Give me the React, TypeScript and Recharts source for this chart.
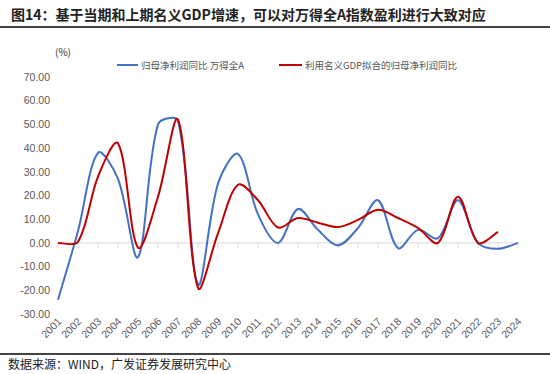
import React from 'react';
import { LineChart, Line, XAxis, YAxis, ReferenceLine } from 'recharts';

const years = ['2001','2002','2003','2004','2005','2006','2007','2008','2009','2010','2011','2012','2013','2014','2015','2016','2017','2018','2019','2020','2021','2022','2023','2024'];
const windA = [-24, 5, 38, 27, -6, 50, 51.5, -17.5, 25, 37.5, 12, 0, 14.3, 5.5, -1, 6.3, 18, -2.2, 5.5, 2, 18, 0, -2.5, 0];
const gdpFit = [0, 0.5, 28, 42, -2, 19.5, 52, -19, 4, 24.5, 18, 6.5, 10.5, 8.5, 6.7, 9.7, 14, 10.5, 6.3, 0, 19.5, 0, 4.7, null];
const yTicks = [-30, -20, -10, 0, 10, 20, 30, 40, 50, 60, 70];

const data = years.map((y, i) => ({ year: y, a: windA[i], b: gdpFit[i] }));

// Excel-like smoothing: Catmull-Rom tangents scaled by neighbouring segment lengths
function excelSmooth(context: any) {
  let pts: number[][] = [];
  const T = 1 / 3;
  const dist = (a: number[], b: number[]) => Math.hypot(b[0] - a[0], b[1] - a[1]);
  const flush = () => {
    const n = pts.length;
    if (n === 0) return;
    context.moveTo(pts[0][0], pts[0][1]);
    if (n === 1) return;
    for (let i = 0; i < n - 1; i++) {
      const p1 = pts[i];
      const p2 = pts[i + 1];
      const d12 = dist(p1, p2);
      let c1x: number, c1y: number, c2x: number, c2y: number;
      if (i > 0) {
        const p0 = pts[i - 1];
        const d01 = dist(p0, p1);
        const f = (d12 / (d01 + d12 || 1)) * T;
        c1x = p1[0] + (p2[0] - p0[0]) * f;
        c1y = p1[1] + (p2[1] - p0[1]) * f;
      } else {
        c1x = p1[0] + (p2[0] - p1[0]) * T * 0.5;
        c1y = p1[1] + (p2[1] - p1[1]) * T * 0.5;
      }
      if (i + 2 < n) {
        const p3 = pts[i + 2];
        const d23 = dist(p2, p3);
        const f = (d12 / (d12 + d23 || 1)) * T;
        c2x = p2[0] - (p3[0] - p1[0]) * f;
        c2y = p2[1] - (p3[1] - p1[1]) * f;
      } else {
        c2x = p2[0] - (p2[0] - p1[0]) * T * 0.5;
        c2y = p2[1] - (p2[1] - p1[1]) * T * 0.5;
      }
      context.bezierCurveTo(c1x, c1y, c2x, c2y, p2[0], p2[1]);
    }
  };
  return {
    areaStart() {},
    areaEnd() {},
    lineStart() { pts = []; },
    lineEnd() { flush(); pts = []; },
    point(x: number, y: number) { pts.push([+x, +y]); },
  };
}

const XTick = (props: any) => {
  const { x, y, payload } = props;
  return (
    <g transform={`translate(${x},${y})`}>
      <text x={0} y={0} dy={6} textAnchor="end" transform="rotate(-45)" fontSize={10.5} fill="#595959" fontFamily="Arial, 'Liberation Sans', sans-serif">
        {payload.value}
      </text>
    </g>
  );
};

export default function App() {
  const cjk = "'Noto Sans CJK SC', sans-serif";
  return (
    <div style={{ position: 'absolute', left: 0, top: 0, width: 550, height: 374, background: '#fff', overflow: 'hidden' }}>
      <div style={{ position: 'absolute', left: 11, top: 4, fontFamily: cjk, fontWeight: 700, fontSize: 14, color: '#222', whiteSpace: 'nowrap', lineHeight: '20px' }}>
        图14：基于当期和上期名义GDP增速，可以对万得全A指数盈利进行大致对应
      </div>
      <div style={{ position: 'absolute', left: 0, top: 26, width: 550, height: 1.5, background: '#444' }} />
      <div style={{ position: 'absolute', left: 55, top: 44, fontFamily: cjk, fontSize: 10, color: '#333' }}>(%)</div>
      <div style={{ position: 'absolute', left: 117, top: 64, width: 21, height: 2, background: '#4472C4' }} />
      <div style={{ position: 'absolute', left: 141, top: 58, fontFamily: cjk, fontSize: 9.5, color: '#555', whiteSpace: 'nowrap', lineHeight: '14px' }}>归母净利润同比 万得全A</div>
      <div style={{ position: 'absolute', left: 279, top: 64, width: 23, height: 2, background: '#C00000' }} />
      <div style={{ position: 'absolute', left: 305, top: 58, fontFamily: cjk, fontSize: 9.5, color: '#555', whiteSpace: 'nowrap', lineHeight: '14px' }}>利用名义GDP拟合的归母净利润同比</div>
      <div style={{ position: 'absolute', left: 0, top: 0 }}>
        <LineChart width={550} height={374} data={data} margin={{ top: 77, right: 32, bottom: 20, left: 0 }}>
          <XAxis dataKey="year" axisLine={false} tickLine={false} tickSize={0} tickMargin={4} height={40} interval={0} tick={<XTick />} />
          <YAxis domain={[-30, 70]} ticks={yTicks} width={58} axisLine={false} tickLine={false} tickSize={0} tickMargin={8}
            tickFormatter={(v: number) => v.toFixed(2)}
            tick={{ fontSize: 10.5, fill: '#595959', fontFamily: "Arial, 'Liberation Sans', sans-serif" }} />
          <ReferenceLine y={0} stroke="#d9d9d9" strokeWidth={1} />
          {years.map((yr) => (
            <ReferenceLine key={yr} segment={[{ x: yr, y: 0 }, { x: yr, y: -2 }]} stroke="#d9d9d9" strokeWidth={1} />
          ))}
          <Line dataKey="a" type={excelSmooth as any} stroke="#4472C4" strokeWidth={2} dot={false} isAnimationActive={false} />
          <Line dataKey="b" type={excelSmooth as any} stroke="#C00000" strokeWidth={2} dot={false} isAnimationActive={false} />
        </LineChart>
      </div>
      <div style={{ position: 'absolute', left: 0, top: 353, width: 550, height: 1.5, background: '#444' }} />
      <div style={{ position: 'absolute', left: 8, top: 355, fontFamily: cjk, fontSize: 12, color: '#222', whiteSpace: 'nowrap', lineHeight: '17px' }}>
        数据来源：WIND，广发证券发展研究中心
      </div>
    </div>
  );
}
